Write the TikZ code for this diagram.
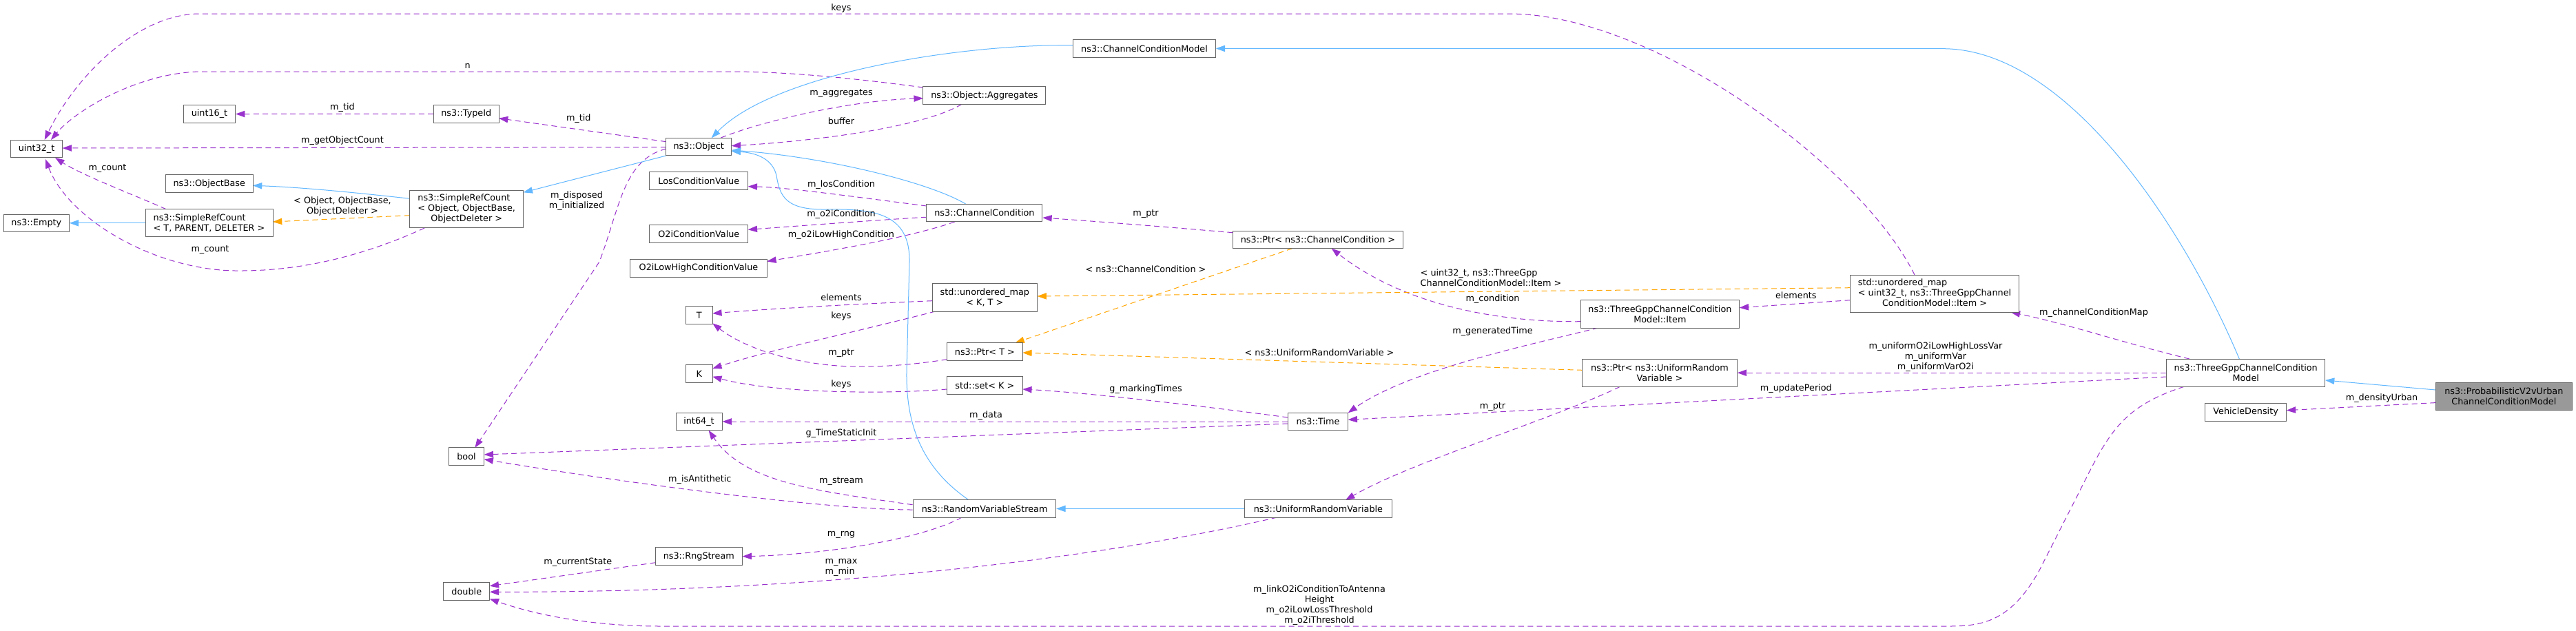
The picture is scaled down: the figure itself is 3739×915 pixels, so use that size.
\documentclass[tikz,border=0pt]{standalone}
\usepackage{fontspec}
\setmainfont{DejaVu Sans}
\usetikzlibrary{arrows.meta}
\definecolor{nodeborder}{HTML}{666666}
\definecolor{memc}{HTML}{9A32CD}
\definecolor{inhc}{HTML}{63B8FF}
\definecolor{tplc}{HTML}{FFA500}
\definecolor{probfill}{HTML}{999999}
\newcommand\dfont{\fontsize{9.6pt}{11.25pt}\selectfont}
\pgfdeclarelayer{background}
\pgfsetlayers{background,main}
\tikzset{
  nd/.style={draw=nodeborder, fill=white, line width=0.75pt, rectangle, inner sep=0pt,
             font=\dfont, minimum height={25.5*0.75pt}, align=center},
  bw/.style={minimum width={#1*0.75pt}},
  bh/.style={minimum height={#1*0.75pt}},
  lbl/.style={font=\dfont, inner sep=0pt, align=center},
  mem/.style={draw=memc, line width=0.75pt, dash pattern=on 6pt off 4pt,
              -{Triangle[length=10pt,width=7pt]}},
  inh/.style={draw=inhc, line width=0.75pt, -{Triangle[length=10pt,width=7pt]}},
  tpl/.style={draw=tplc, line width=0.75pt, dash pattern=on 6pt off 4pt,
              -{Triangle[length=10pt,width=7pt]}}
}
\begin{document}
\begin{tikzpicture}[x=0.75pt,y=-0.75pt]
\useasboundingbox (0,0) rectangle (3739,915);
% ---------- nodes ----------
\node[nd,bw=75] (uint32) at (53.1,216) {uint32\_t};
\node[nd,bw=75] (uint16) at (304,165.5) {uint16\_t};
\node[nd,bw=126.4] (objbase) at (303.8,266.5) {ns3::ObjectBase};
\node[nd,bw=95] (empty) at (52.9,323.8) {ns3::Empty};
\node[nd,bw=185,bh=40.3,align=left] (srct) at (303.5,323.8) {ns3::SimpleRefCount\\< T, PARENT, DELETER >};
\node[nd,bw=165,bh=54.3] (srco) at (677.2,303.8) {\begin{tabular}{@{}l@{}}ns3::SimpleRefCount\\< Object, ObjectBase,\\\multicolumn{1}{@{}c@{}}{ObjectDeleter >}\end{tabular}};
\node[nd,bw=94.4] (typeid) at (676.8,165.4) {ns3::TypeId};
\node[nd,bw=95] (object) at (1014.2,213.2) {ns3::Object};
\node[nd,bw=178] (aggr) at (1428.9,138.5) {ns3::Object::Aggregates};
\node[nd,bw=142.8] (los) at (1014.3,262.4) {LosConditionValue};
\node[nd,bw=142.8] (o2i) at (1014.3,339.5) {O2iConditionValue};
\node[nd,bw=198.5] (o2ilh) at (1014,389.4) {O2iLowHighConditionValue};
\node[nd,bw=168] (cc) at (1428.9,309.2) {ns3::ChannelCondition};
\node[nd,bw=206.6] (ccm) at (1661,70.4) {ns3::ChannelConditionModel};
\node[nd,bw=247.4] (ptrcc) at (1913,347.9) {ns3::Ptr< ns3::ChannelCondition >};
\node[nd,bw=152.6,bh=40.3] (mapkt) at (1429.3,431.9) {std::unordered\_map\\< K, T >};
\node[nd,bw=38.8] (T) at (1014.8,457.4) {T};
\node[nd,bw=38.8] (K) at (1014.8,542.4) {K};
\node[nd,bw=67] (int64) at (1014.5,612) {int64\_t};
\node[nd,bw=51] (bool) at (677,662.5) {bool};
\node[nd,bw=66.8] (double) at (677.3,858.4) {double};
\node[nd,bw=125.5] (rng) at (1014.3,807.7) {ns3::RngStream};
\node[nd,bw=207.2] (rvs) at (1429.1,738.4) {ns3::RandomVariableStream};
\node[nd,bw=109.7] (ptrt) at (1429.4,510.5) {ns3::Ptr< T >};
\node[nd,bw=109.7] (setk) at (1429.4,559.7) {std::set< K >};
\node[nd,bw=87.2] (time) at (1913,612) {ns3::Time};
\node[nd,bw=213.3] (urv) at (1913.4,738.4) {ns3::UniformRandomVariable};
\node[nd,bw=245,bh=54.3] (map3) at (2808,426.2) {\begin{tabular}{@{}l@{}}std::unordered\_map\\< uint32\_t, ns3::ThreeGppChannel\\\multicolumn{1}{@{}c@{}}{ConditionModel::Item >}\end{tabular}};
\node[nd,bw=230.7,bh=40.3] (item) at (2409.4,455.9) {ns3::ThreeGppChannelCondition\\Model::Item};
\node[nd,bw=224.5,bh=40.3] (ptrurv) at (2409,541.2) {ns3::Ptr< ns3::UniformRandom\\Variable >};
\node[nd,bw=230.5,bh=40.3] (tgccm) at (3259.7,541.2) {ns3::ThreeGppChannelCondition\\Model};
\node[nd,fill=probfill,bw=198,bh=39.7] (prob) at (3634.3,575.3) {ns3::ProbabilisticV2vUrban\\ChannelConditionModel};
\node[nd,bw=118.2] (vd) at (3259.6,598.3) {VehicleDensity};
% ---------- edges ----------
\begin{pgfonlayer}{background}
\fill[white] (0,0) rectangle (3739,915);
% member (purple)
\draw[mem] ([shift={(-89,-11.5)}]aggr.center) .. controls (1250,115) and (1150,104) .. (1060,104) -- (290,104) .. controls (200,106) and (110,160) .. ([shift={(20.9,-13)}]uint32.center);
\draw[mem] ([shift={(-29,-27.2)}]map3.center) .. controls (2700,240) and (2400,20) .. (2190,20) -- (290,20) .. controls (200,20) and (110,110) .. ([shift={(11.6,-13)}]uint32.center);
\draw[mem] (typeid.west) -- (uint16.east);
\draw[mem] ([shift={(-47.4,-7.5)}]object.center) -- ([shift={(47.2,6.3)}]typeid.center);
\draw[mem] ([shift={(-47.4,0.5)}]object.center) -- ([shift={(37.5,-1)}]uint32.center);
\draw[mem] ([shift={(32.2,-13.2)}]object.center) .. controls (1100,178) and (1230,146) .. ([shift={(-89.1,4.2)}]aggr.center);
\draw[mem] ([shift={(-33,12.8)}]aggr.center) .. controls (1340,185) and (1180,205) .. ([shift={(47.5,-1.5)}]object.center);
\draw[mem] ([shift={(-47.4,2.8)}]object.center) .. controls (905,232) and (900,300) .. (870,380) -- ([shift={(12.3,-12.5)}]bool.center);
\draw[mem] ([shift={(-61,27.2)}]srco.center) .. controls (520,375) and (430,393) .. (350,393) .. controls (230,395) and (100,320) .. ([shift={(12.9,15)}]uint32.center);
\draw[mem] ([shift={(-62.5,-20.15)}]srct.center) .. controls (200,285) and (120,255) .. ([shift={(27,13)}]uint32.center);
\draw[mem] ([shift={(-84,-10.2)}]cc.center) .. controls (1220,283) and (1140,272) .. ([shift={(71.4,8.3)}]los.center);
\draw[mem] ([shift={(-84,6)}]cc.center) .. controls (1250,321) and (1160,328) .. ([shift={(71.4,-6.2)}]o2i.center);
\draw[mem] ([shift={(-43.2,12.8)}]cc.center) .. controls (1320,345) and (1200,365) .. ([shift={(99.3,-10)}]o2ilh.center);
\draw[mem] ([shift={(-123.7,-10.2)}]ptrcc.center) .. controls (1700,330) and (1600,322) .. ([shift={(84.4,6.8)}]cc.center);
\draw[mem] ([shift={(-76.3,4.8)}]mapkt.center) .. controls (1250,441) and (1120,448) .. ([shift={(19.4,-2.4)}]T.center);
\draw[mem] ([shift={(-71.7,20.1)}]mapkt.center) .. controls (1250,480) and (1110,510) .. ([shift={(19.4,-7.4)}]K.center);
\draw[mem] ([shift={(-54.9,11.2)}]ptrt.center) .. controls (1310,532) and (1260,533) .. (1227.6,531.7) .. controls (1150,528) and (1080,505) .. ([shift={(19.4,11.9)}]T.center);
\draw[mem] ([shift={(-54.9,5.3)}]setk.center) .. controls (1280,573) and (1120,570) .. ([shift={(19.4,4.3)}]K.center);
\draw[mem] (time.west) -- (int64.east);
\draw[mem] ([shift={(-43.6,3)}]time.center) -- ([shift={(25.6,-2.5)}]bool.center);
\draw[mem] ([shift={(-43.6,-6)}]time.center) .. controls (1750,590) and (1580,570) .. ([shift={(54.8,5.3)}]setk.center);
\draw[mem] ([shift={(-115.4,10.8)}]item.center) .. controls (2180,468) and (2040,445) .. ([shift={(19.7,12.8)}]ptrcc.center);
\draw[mem] ([shift={(-89.6,20.1)}]item.center) .. controls (2200,505) and (2040,540) .. ([shift={(43.6,-12.7)}]time.center);
\draw[mem] ([shift={(-115.3,5.8)}]tgccm.center) -- ([shift={(43.6,-2.7)}]time.center);
\draw[mem] (tgccm.west) -- (ptrurv.east);
\draw[mem] ([shift={(-81.7,-20.15)}]tgccm.center) .. controls (3090,500) and (3000,470) .. ([shift={(110.7,27.1)}]map3.center);
\draw[mem] ([shift={(-122.5,9.5)}]map3.center) -- ([shift={(115.3,-9.2)}]item.center);
\draw[mem] ([shift={(-57.6,20.15)}]ptrurv.center) .. controls (2250,610) and (2050,670) .. ([shift={(39.6,-12.65)}]urv.center);
\draw[mem] ([shift={(-104.6,-5.7)}]rvs.center) .. controls (1180,712) and (1080,700) .. ([shift={(14.1,12.7)}]int64.center);
\draw[mem] ([shift={(-104.6,1.6)}]rvs.center) .. controls (1200,740) and (900,700) .. ([shift={(25.6,4.2)}]bool.center);
\draw[mem] ([shift={(-33.1,12.65)}]rvs.center) .. controls (1340,782) and (1200,805) .. (rng.east);
\draw[mem] ([shift={(-62.8,9)}]rng.center) -- ([shift={(33.4,-7.7)}]double.center);
\draw[mem] ([shift={(-59.8,12.65)}]urv.center) .. controls (1600,810) and (1200,860) .. ([shift={(33.4,0.9)}]double.center);
\draw[mem] ([shift={(-89.7,20.15)}]tgccm.center) .. controls (3080,590) and (3060,630) .. (3020,710) -- (2960,828) .. controls (2920,900) and (2880,909) .. (2830,909) -- (960,909) .. controls (850,909) and (770,890) .. ([shift={(33.4,10.9)}]double.center);
\draw[mem] ([shift={(-99,9.3)}]prob.center) -- ([shift={(59.1,-2.6)}]vd.center);
% inheritance (blue)
\draw[inh] ([shift={(-82.6,-15.5)}]srco.center) .. controls (520,280) and (440,272) .. ([shift={(63.2,2.8)}]objbase.center);
\draw[inh] (srct.west) -- (empty.east);
\draw[inh] ([shift={(-47.4,12.8)}]object.center) -- ([shift={(82.5,-24.5)}]srco.center);
\draw[inh] ([shift={(-103.3,-4.7)}]ccm.center) .. controls (1380,64) and (1120,110) .. ([shift={(18.5,-12.9)}]object.center);
\draw[inh] ([shift={(-26.9,-12.9)}]cc.center) .. controls (1350,265) and (1200,228) .. ([shift={(47.5,4.8)}]object.center);
\draw[inh] ([shift={(-23.1,-12.65)}]rvs.center) .. controls (1340,680) and (1315,620) .. (1316,540) -- (1320,380) .. controls (1321,310) and (1270,303) .. (1200,304) .. controls (1140,305) and (1132,285) .. (1127,255) .. controls (1122,232) and (1100,222) .. ([shift={(47.5,6.3)}]object.center);
\draw[inh] (urv.west) -- (rvs.east);
\draw[inh] ([shift={(-9.4,-20.15)}]tgccm.center) .. controls (3170,330) and (3000,70.7) .. (2820,70.7) -- (ccm.east);
\draw[inh] ([shift={(-99,-9.3)}]prob.center) -- ([shift={(115.25,10.8)}]tgccm.center);
% template instances (orange)
\draw[tpl] ([shift={(-82.6,8.9)}]srco.center) -- ([shift={(92.5,-1.8)}]srct.center);
\draw[tpl] ([shift={(-37.5,12.8)}]ptrcc.center) -- ([shift={(44.1,-12.8)}]ptrt.center);
\draw[tpl] ([shift={(-122.5,-8.5)}]map3.center) -- ([shift={(76.3,-1.9)}]mapkt.center);
\draw[tpl] ([shift={(-112.2,-3.9)}]ptrurv.center) -- ([shift={(54.85,1.5)}]ptrt.center);
\end{pgfonlayer}
% ---------- labels ----------
\node[lbl] (la1) at (1221,11.7) {keys};
\node[lbl] (la2) at (678.6,96) {n};
\node[lbl] (la3) at (497,156) {m\_tid};
\node[lbl] (la4) at (839.8,171.7) {m\_tid};
\node[lbl] (la5) at (497,204) {m\_getObjectCount};
\node[lbl] (la6) at (156,245) {m\_count};
\node[lbl] (la7) at (497,299) {< Object, ObjectBase,\\ObjectDeleter >};
\node[lbl] (la8) at (305,362.7) {m\_count};
\node[lbl] (la9) at (1221,135.7) {m\_aggregates};
\node[lbl] (la10) at (1221,176) {buffer};
\node[lbl] (la11) at (837,291.5) {m\_disposed\\m\_initialized};
\node[lbl] (la12) at (1221,268) {m\_losCondition};
\node[lbl] (la13) at (1221,310.7) {m\_o2iCondition};
\node[lbl] (la14) at (1221,340.7) {m\_o2iLowHighCondition};
\node[lbl] (la15) at (1663,310.7) {m\_ptr};
\node[lbl] (la16) at (1663,391) {< ns3::ChannelCondition >};
\node[lbl,align=left] (la17) at (2164,403.2) {< uint32\_t, ns3::ThreeGpp\\ChannelConditionModel::Item >};
\node[lbl] (la18) at (1221,431.7) {elements};
\node[lbl] (la19) at (1221,459.3) {keys};
\node[lbl] (la20) at (1221,512.7) {m\_ptr};
\node[lbl] (la21) at (1221,558.3) {keys};
\node[lbl] (la22) at (1221,628.7) {g\_TimeStaticInit};
\node[lbl] (la23) at (1015.8,695.7) {m\_isAntithetic};
\node[lbl] (la24) at (1221,698.7) {m\_stream};
\node[lbl] (la25) at (1221,776.7) {m\_rng};
\node[lbl] (la26) at (838.8,816.7) {m\_currentState};
\node[lbl,align=left] (la27) at (1221,824.2) {m\_max\\m\_min};
\node[lbl] (la28) at (1915,512) {< ns3::UniformRandomVariable >};
\node[lbl] (la29) at (1663,564.7) {g\_markingTimes};
\node[lbl] (la30) at (1431,603.3) {m\_data};
\node[lbl] (la31) at (1915,878.7) {m\_linkO2iConditionToAntenna\\Height\\m\_o2iLowLossThreshold\\m\_o2iThreshold};
\node[lbl] (la32) at (2166.5,434.3) {m\_condition};
\node[lbl] (la33) at (2606.8,428.3) {elements};
\node[lbl] (la34) at (2166.5,480.7) {m\_generatedTime};
\node[lbl] (la35) at (2809.5,517.9) {m\_uniformO2iLowHighLossVar\\m\_uniformVar\\m\_uniformVarO2i};
\node[lbl] (la36) at (2606.8,564.3) {m\_updatePeriod};
\node[lbl] (la37) at (2166.5,590.3) {m\_ptr};
\node[lbl] (la38) at (3039,454) {m\_channelConditionMap};
\node[lbl] (la39) at (3457,578.2) {m\_densityUrban};
\end{tikzpicture}
\end{document}
